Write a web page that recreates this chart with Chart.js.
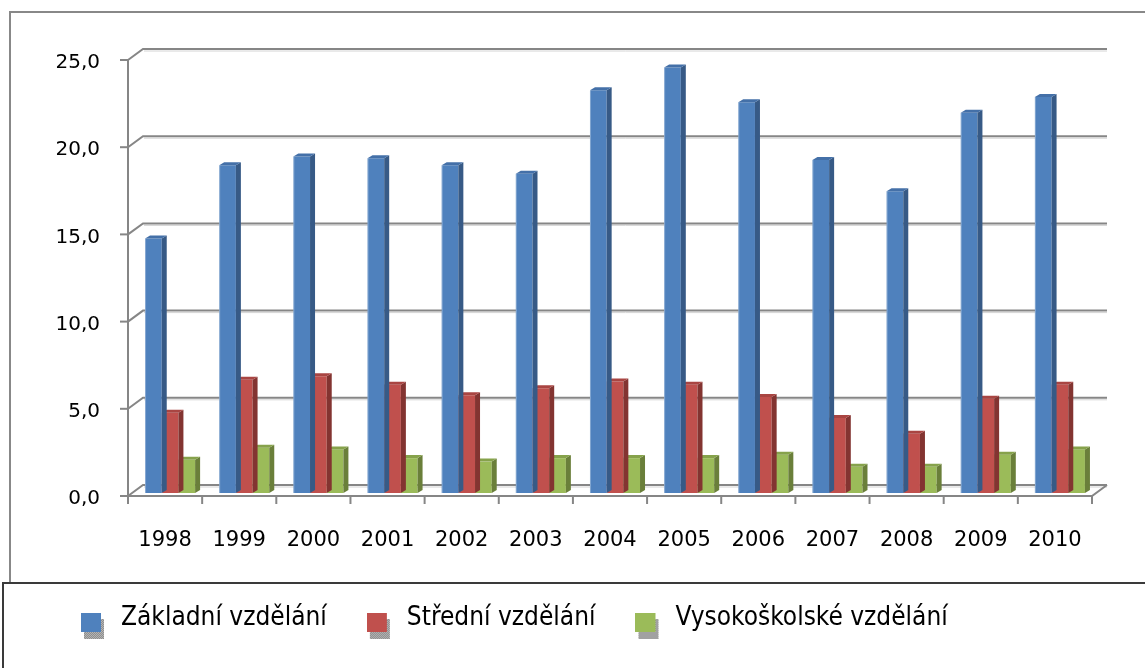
<!DOCTYPE html>
<html><head><meta charset="utf-8">
<script src="https://cdn.jsdelivr.net/npm/chart.js@4"></script>
<style>html,body{margin:0;padding:0;background:#fff}#wrap{width:1145px;height:668px;position:relative}</style>
</head><body><div id="wrap"><canvas id="c" width="1145" height="668"></canvas></div>
<script>
// ---- data ----
const years = ['1998','1999','2000','2001','2002','2003','2004','2005','2006','2007','2008','2009','2010'];
const zakladni = [14.6,18.8,19.3,19.2,18.8,18.3,23.1,24.4,22.4,19.1,17.3,21.8,22.7];
const stredni  = [4.6,6.5,6.7,6.2,5.6,6.0,6.4,6.2,5.5,4.3,3.4,5.4,6.2];
const vysoko   = [1.9,2.6,2.5,2.0,1.8,2.0,2.0,2.0,2.2,1.5,1.5,2.2,2.5];
const seriesNames = ['Základní vzdělání','Střední vzdělání','Vysokoškolské vzdělání'];
const yTickValues = [0,5,10,15,20,25];

// ---- styles ----
const front = ['#4F81BD','#C0504D','#9BBB59'];
const side  = ['#375A86','#833431','#6A7F3A'];
const topc  = ['#4470A8','#A94542','#86A24B'];
const FONT = '"DejaVu Sans", sans-serif';
const LFONT = '"DejaVu Sans Condensed", "DejaVu Sans", sans-serif';
const G = {bx:10, by:8, fx:5, fy:3, dx:5, dy:3};

function makeMarker(color){
  const c = document.createElement('canvas');
  c.width = 27; c.height = 44;
  const x = c.getContext('2d');
  for(let i=0;i<20;i++){ for(let j=0;j<20;j++){ x.fillStyle = ((i+j)%2) ? '#b4b4b4' : '#8e8e8e'; x.fillRect(3+i,23+j,1,1);} }
  x.fillStyle = color; x.fillRect(0,17,20,19);
  return c;
}
const markers = front.map(makeMarker);

const deco = {
  id:'deco',
  beforeDraw(chart){
    const ctx = chart.ctx; ctx.save();
    ctx.fillStyle='#fff'; ctx.fillRect(0,0,chart.width,chart.height);
    ctx.strokeStyle='#888888'; ctx.lineWidth=2;
    ctx.beginPath(); ctx.moveTo(10,583); ctx.lineTo(10,12); ctx.lineTo(1146,12); ctx.stroke();
    ctx.strokeStyle='#3a3a3a'; ctx.lineWidth=2;
    ctx.strokeRect(3,583,1150,100);
    ctx.restore();
  },
  beforeDatasetsDraw(chart){
    const ctx = chart.ctx, ys = chart.scales.y, a = chart.chartArea;
    ctx.save();
    ys.ticks.forEach(t=>{
      const y = ys.getPixelForValue(t.value);
      ctx.lineWidth = 1; ctx.strokeStyle = '#d4d4d4';
      ctx.beginPath(); ctx.moveTo(a.left+G.bx+1, y-G.by+2); ctx.lineTo(a.right+G.bx, y-G.by+2); ctx.stroke();
      ctx.lineWidth = 2; ctx.strokeStyle = '#868686';
      ctx.beginPath(); ctx.moveTo(a.left-G.fx, y+G.fy); ctx.lineTo(a.left+G.bx, y-G.by); ctx.lineTo(a.right+G.bx, y-G.by); ctx.stroke();
    });
    ctx.restore();
  },
  afterDatasetDraw(chart, args){
    const ctx = chart.ctx, i = args.index, meta = chart.getDatasetMeta(i);
    ctx.save();
    meta.data.forEach(el=>{
      const p = el.getProps(['x','y','base','width'], true);
      const l = p.x - p.width/2, r = p.x + p.width/2, t = p.y, b = p.base;
      ctx.fillStyle = side[i];
      ctx.beginPath(); ctx.moveTo(r,t); ctx.lineTo(r+G.dx,t-G.dy); ctx.lineTo(r+G.dx,b-G.dy); ctx.lineTo(r,b); ctx.closePath(); ctx.fill();
      ctx.fillStyle = topc[i];
      ctx.beginPath(); ctx.moveTo(l,t); ctx.lineTo(l+G.dx,t-G.dy); ctx.lineTo(r+G.dx,t-G.dy); ctx.lineTo(r,t); ctx.closePath(); ctx.fill();
      ctx.fillStyle = 'rgba(255,255,255,0.3)';
      ctx.fillRect(l, t, 1, b-t);
    });
    ctx.restore();
  },
  afterDatasetsDraw(chart){
    const ctx = chart.ctx, ys = chart.scales.y, xs = chart.scales.x, a = chart.chartArea;
    const y0 = ys.getPixelForValue(0) + G.fy, yTop = ys.getPixelForValue(ys.max) + G.fy;
    const xl = a.left - G.fx, xr = a.right - G.fx;
    ctx.save(); ctx.strokeStyle='#868686'; ctx.lineWidth=2;
    ctx.beginPath(); ctx.moveTo(xl, yTop); ctx.lineTo(xl, y0); ctx.lineTo(xr, y0); ctx.lineTo(xr+G.bx+G.fx, y0-G.by-G.fy); ctx.stroke();
    ys.ticks.forEach(t=>{ const y = ys.getPixelForValue(t.value)+G.fy; ctx.beginPath(); ctx.moveTo(xl-8,y); ctx.lineTo(xl,y); ctx.stroke(); });
    const n = xs.ticks.length, cw = (a.right-a.left)/n;
    for(let k=0;k<=n;k++){ const x = xs.getPixelForValue(0) - cw/2 + k*cw - G.fx; ctx.beginPath(); ctx.moveTo(x,y0); ctx.lineTo(x,y0+8); ctx.stroke(); }
    ctx.restore();
  }
};

new Chart(document.getElementById('c'), {
  type:'bar',
  data:{
    labels: years,
    datasets:[
      {label: seriesNames[0], data: zakladni, backgroundColor: front[0]},
      {label: seriesNames[1], data: stredni,  backgroundColor: front[1]},
      {label: seriesNames[2], data: vysoko,   backgroundColor: front[2]}
    ]
  },
  options:{
    responsive:false, animation:false,
    datasets:{bar:{categoryPercentage:0.675, barPercentage:1.0}},
    layout:{padding:{left:41, right:48, top:57, bottom:27}},
    scales:{
      x:{
        grid:{display:false}, border:{display:false},
        ticks:{font:{family:FONT,size:21}, color:'#000', padding:27, labelOffset:-5, maxRotation:0, autoSkip:false},
        afterFit(s){ s.height = 72; }
      },
      y:{
        min:0, max:25,
        afterBuildTicks(s){ s.ticks = yTickValues.map(v=>({value:v})); },
        grid:{display:false}, border:{display:false},
        ticks:{font:{family:FONT,size:20}, color:'#000', padding:25, labelOffset:6,
          callback:v=>v.toFixed(1).replace('.',',')},
        afterFit(s){ s.width = 92; }
      }
    },
    plugins:{
      tooltip:{enabled:false},
      legend:{
        position:'bottom', align:'start',
        labels:{
          font:{family:LFONT,size:26}, color:'#000', padding:40,
          usePointStyle:true, pointStyleWidth:27,
          generateLabels(chart){
            return chart.data.datasets.map((ds,i)=>({text:ds.label, fillStyle:ds.backgroundColor, strokeStyle:ds.backgroundColor, lineWidth:0, hidden:false, datasetIndex:i, pointStyle:markers[i], fontColor:'#000'}));
          }
        }
      }
    }
  },
  plugins:[deco]
});
</script></body></html>
